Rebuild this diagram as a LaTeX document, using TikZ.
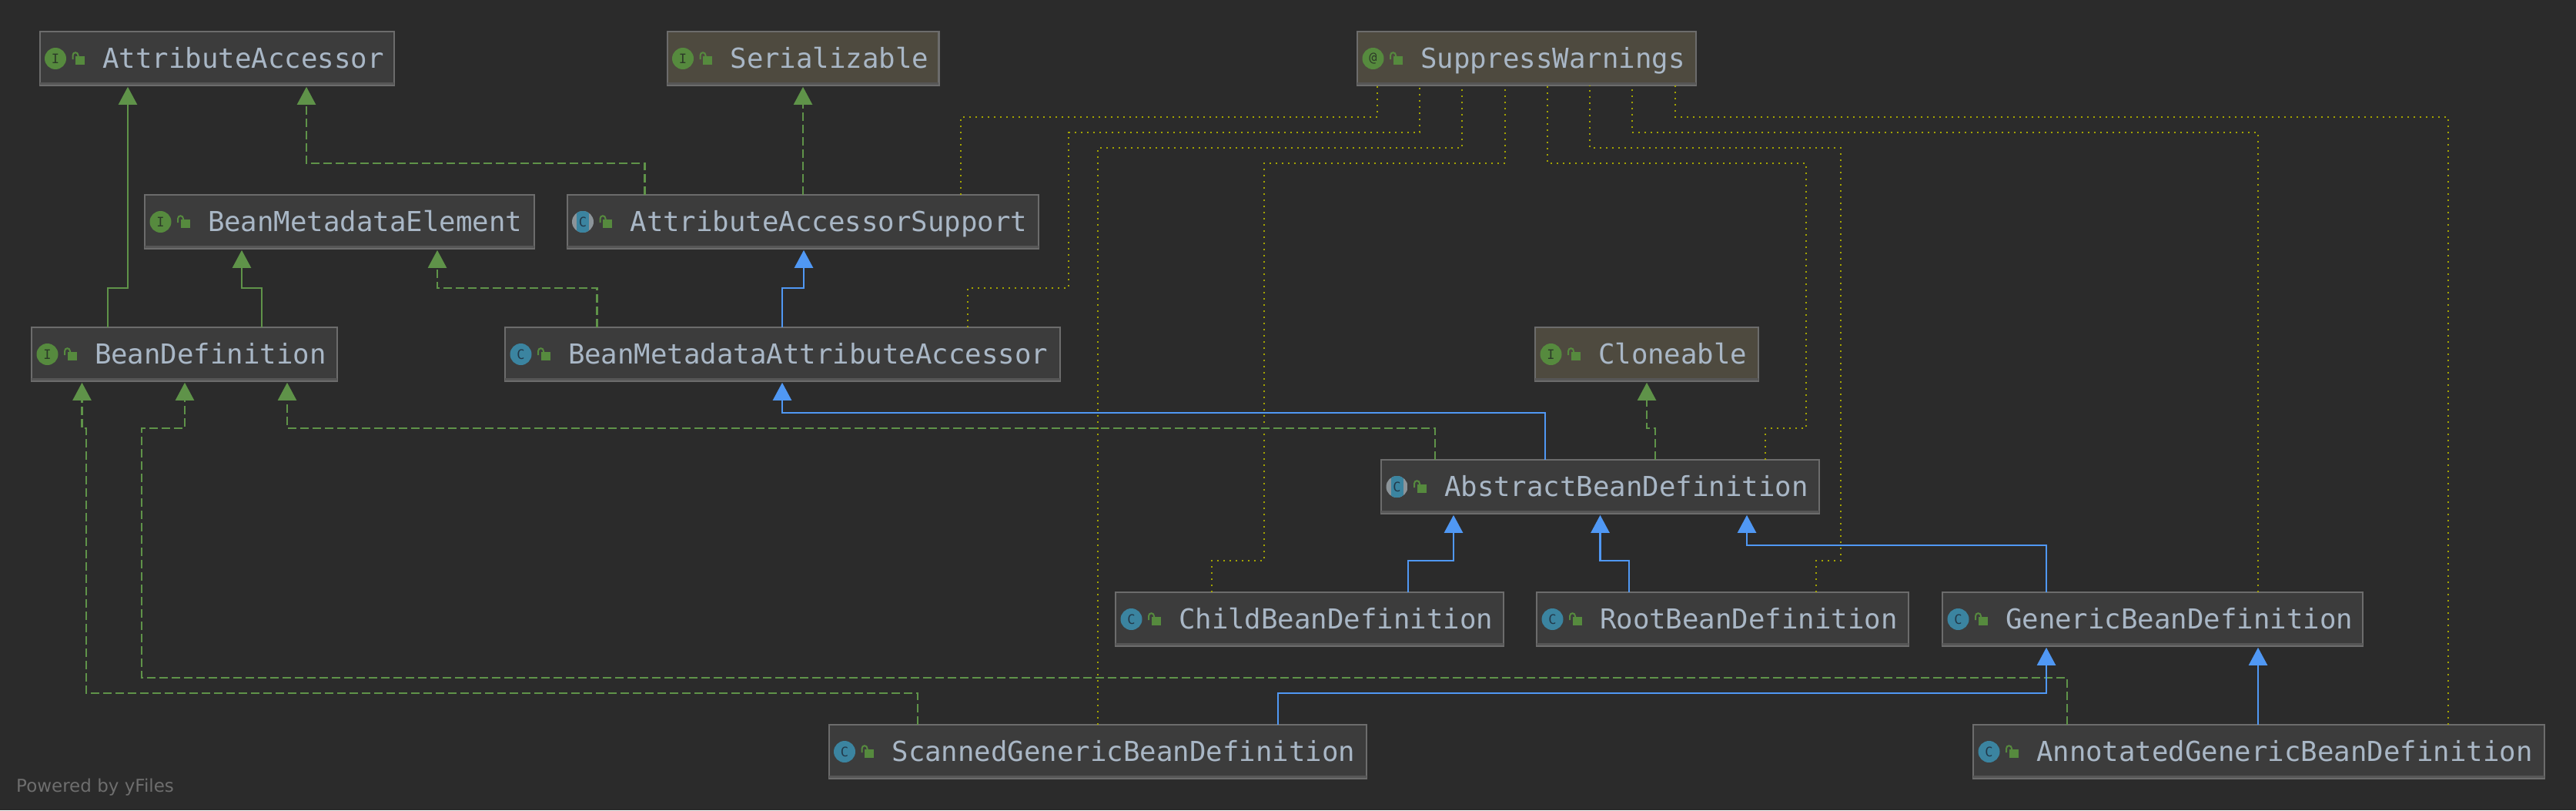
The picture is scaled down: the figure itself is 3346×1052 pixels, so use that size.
\documentclass[tikz,border=0pt]{standalone}
\usepackage{fontspec}
\usetikzlibrary{arrows.meta}
\setmainfont{DejaVu Sans}
\newfontfamily\monofam{DejaVu Sans Mono}
\definecolor{bgc}{HTML}{2B2B2B}
\definecolor{boxc}{HTML}{3C3C3C}
\definecolor{extc}{HTML}{4E4A3F}
\definecolor{edgec}{HTML}{6C6C6C}
\definecolor{bandc}{HTML}{565656}
\definecolor{txtc}{HTML}{A9B7C6}
\definecolor{grn}{HTML}{5F9349}
\definecolor{icg}{HTML}{568A3E}
\definecolor{icb}{HTML}{3B84A0}
\definecolor{abs}{HTML}{8C9499}
\definecolor{blu}{HTML}{5098F4}
\definecolor{dot}{HTML}{A3A300}
\definecolor{ldk}{HTML}{2C3A28}
\definecolor{cdk}{HTML}{22394A}
\definecolor{yf}{HTML}{6E6E6E}
\tikzset{
  box/.style={draw=edgec,line width=2.4pt,inner sep=0pt,outer sep=0pt,font=\monofam\fontsize{35.7}{40}\selectfont,text=txtc},
  plainbox/.style={box,fill=boxc},
  extbox/.style={box,fill=extc},
  band/.style={fill=bandc,draw=none},
  iconletter/.style={inner sep=0pt,font=\monofam\fontsize{17}{18}\selectfont},
  inh/.style={line width=2.2pt,color=grn,-{Triangle[length=23pt,width=24pt]},shorten >=2pt},
  impl/.style={line width=2.2pt,color=grn,dash pattern=on 11pt off 5pt,-{Triangle[length=23pt,width=24pt]},shorten >=2pt},
  ext/.style={line width=2.4pt,color=blu,-{Triangle[length=23pt,width=24pt]},shorten >=2pt},
  anno/.style={line width=2pt,color=dot,dash pattern=on 2pt off 6pt},
  lockb/.style={fill=icg,draw=none},
  locks/.style={draw=icg,line width=2pt}
}
% name, x1, y1, x2, y2, box style, icon kind (I,@,C,A), text
\newcommand{\umlbox}[8]{%
  \node[#6,minimum width={#4-#2-2.4},minimum height={#5-#3-2.4}] (#1) at ({(#2+#4)/2},{(#3+#5)/2})
    {\makebox[\dimexpr#4pt-#2pt-2.4pt\relax][l]{\hspace*{81.8pt}\rule[-12pt]{0pt}{48pt}#8}};
  \fill[band] (#2+1.2,#5-5.5) rectangle (#4-1.2,#5-2.4);
  \umlicon{#1}{#2}{#3}{#7}
  \fill[lockb] (#2+47.5,#3+33) rectangle (#2+59.5,#3+44);
  \draw[locks] (#2+44,#3+37) -- (#2+44,#3+32) .. controls (#2+44,#3+27) and (#2+51,#3+27) .. (#2+51,#3+32) -- (#2+51,#3+34);
}
\newcommand{\umlicon}[4]{%
  \ifx#4A
    \begin{scope}
      \clip (#2+21.5,#3+36) circle[radius=14];
      \fill[abs] (#2+7,#3+20) rectangle (#2+36,#3+52);
      \fill[icb] (#2+13.5,#3+20) rectangle (#2+29.5,#3+52);
    \end{scope}
    \node[iconletter,text=cdk] (#1-icon) at (#2+21.5,#3+36) {C};
  \else\ifx#4C
    \fill[icb] (#2+21.5,#3+36) circle[radius=14];
    \node[iconletter,text=cdk] (#1-icon) at (#2+21.5,#3+36) {C};
  \else
    \fill[icg] (#2+21.5,#3+36) circle[radius=14];
    \node[iconletter,text=ldk] (#1-icon) at (#2+21.5,#3+36) {#4};
  \fi\fi
}
\begin{document}
\begin{tikzpicture}[x=1pt,y=-1pt]
\useasboundingbox[fill=bgc] (0,0) rectangle (3346,1052);

\umlbox{aa}{50.5}{40}{513}{112}{plainbox}{I}{AttributeAccessor}
\umlbox{ser}{865.5}{40}{1220.5}{112}{extbox}{I}{Serializable}
\umlbox{sw}{1762}{40}{2204}{112}{extbox}{@}{SuppressWarnings}
\umlbox{bme}{187}{252}{695}{324}{plainbox}{I}{BeanMetadataElement}
\umlbox{aas}{735.5}{252}{1350}{324}{plainbox}{A}{AttributeAccessorSupport}
\umlbox{bd}{40}{424}{439}{496}{plainbox}{I}{BeanDefinition}
\umlbox{bmaa}{655}{424}{1378}{496}{plainbox}{C}{BeanMetadataAttributeAccessor}
\umlbox{clo}{1993}{424}{2285}{496}{extbox}{I}{Cloneable}
\umlbox{abd}{1793}{596}{2364}{668}{plainbox}{A}{AbstractBeanDefinition}
\umlbox{child}{1448}{768}{1954}{840}{plainbox}{C}{ChildBeanDefinition}
\umlbox{root}{1995}{768}{2480}{840}{plainbox}{C}{RootBeanDefinition}
\umlbox{gen}{2522}{768}{3070}{840}{plainbox}{C}{GenericBeanDefinition}
\umlbox{scan}{1075.5}{940}{1776}{1012}{plainbox}{C}{ScannedGenericBeanDefinition}
\umlbox{ann}{2562}{940}{3306}{1012}{plainbox}{C}{AnnotatedGenericBeanDefinition}

\node[anchor=base west,inner sep=0pt,text=yf,font=\fontsize{23}{26}\selectfont] (yfiles) at (21,1028) {Powered by yFiles};

% annotation links (dotted)
\draw[anno] (1248,0 |- aas.north) -- (1248,152) -- (1789,152) -- (1789,0 |- sw.south);
\draw[anno] (1257,0 |- bmaa.north) -- (1257,374) -- (1388,374) -- (1388,172) -- (1844,172) -- (1844,0 |- sw.south);
\draw[anno] (1426,0 |- scan.north) -- (1426,192) -- (1899,192) -- (1899,0 |- sw.south);
\draw[anno] (1574,0 |- child.north) -- (1574,728) -- (1642,728) -- (1642,212) -- (1955,212) -- (1955,0 |- sw.south);
\draw[anno] (2293,0 |- abd.north) -- (2293,556) -- (2346,556) -- (2346,212) -- (2010,212) -- (2010,0 |- sw.south);
\draw[anno] (2359,0 |- root.north) -- (2359,728) -- (2391,728) -- (2391,192) -- (2065,192) -- (2065,0 |- sw.south);
\draw[anno] (2933,0 |- gen.north) -- (2933,172) -- (2120,172) -- (2120,0 |- sw.south);
\draw[anno] (3180,0 |- ann.north) -- (3180,152) -- (2176,152) -- (2176,0 |- sw.south);

% interface inheritance (solid green)
\draw[inh] (140,0 |- bd.north) -- (140,374) -- (166,374) -- (166,0 |- aa.south);
\draw[inh] (340,0 |- bd.north) -- (340,374) -- (314,374) -- (314,0 |- bme.south);

% implementation (dashed green)
\draw[impl] (837.5,0 |- aas.north) -- (837.5,212) -- (398,212) -- (398,0 |- aa.south);
\draw[impl] (1043,0 |- aas.north) -- (1043,0 |- ser.south);
\draw[impl] (775.5,0 |- bmaa.north) -- (775.5,374) -- (568,374) -- (568,0 |- bme.south);
\draw[impl] (1864,0 |- abd.north) -- (1864,556) -- (373,556) -- (373,0 |- bd.south);
\draw[impl] (2150,0 |- abd.north) -- (2150,556) -- (2139,556) -- (2139,0 |- clo.south);
\draw[impl] (1192,0 |- scan.north) -- (1192,900) -- (112,900) -- (112,556) -- (106.5,556) -- (106.5,0 |- bd.south);
\draw[impl] (2685,0 |- ann.north) -- (2685,880) -- (184,880) -- (184,556) -- (240,556) -- (240,0 |- bd.south);

% class extension (solid blue)
\draw[ext] (1016,0 |- bmaa.north) -- (1016,374) -- (1044,374) -- (1044,0 |- aas.south);
\draw[ext] (2007,0 |- abd.north) -- (2007,536) -- (1016,536) -- (1016,0 |- bmaa.south);
\draw[ext] (1829,0 |- child.north) -- (1829,728) -- (1888,728) -- (1888,0 |- abd.south);
\draw[ext] (2116,0 |- root.north) -- (2116,728) -- (2078.5,728) -- (2078.5,0 |- abd.south);
\draw[ext] (2658,0 |- gen.north) -- (2658,708) -- (2269,708) -- (2269,0 |- abd.south);
\draw[ext] (1660,0 |- scan.north) -- (1660,900) -- (2658,900) -- (2658,0 |- gen.south);
\draw[ext] (2933,0 |- ann.north) -- (2933,0 |- gen.south);
\end{tikzpicture}
\end{document}
